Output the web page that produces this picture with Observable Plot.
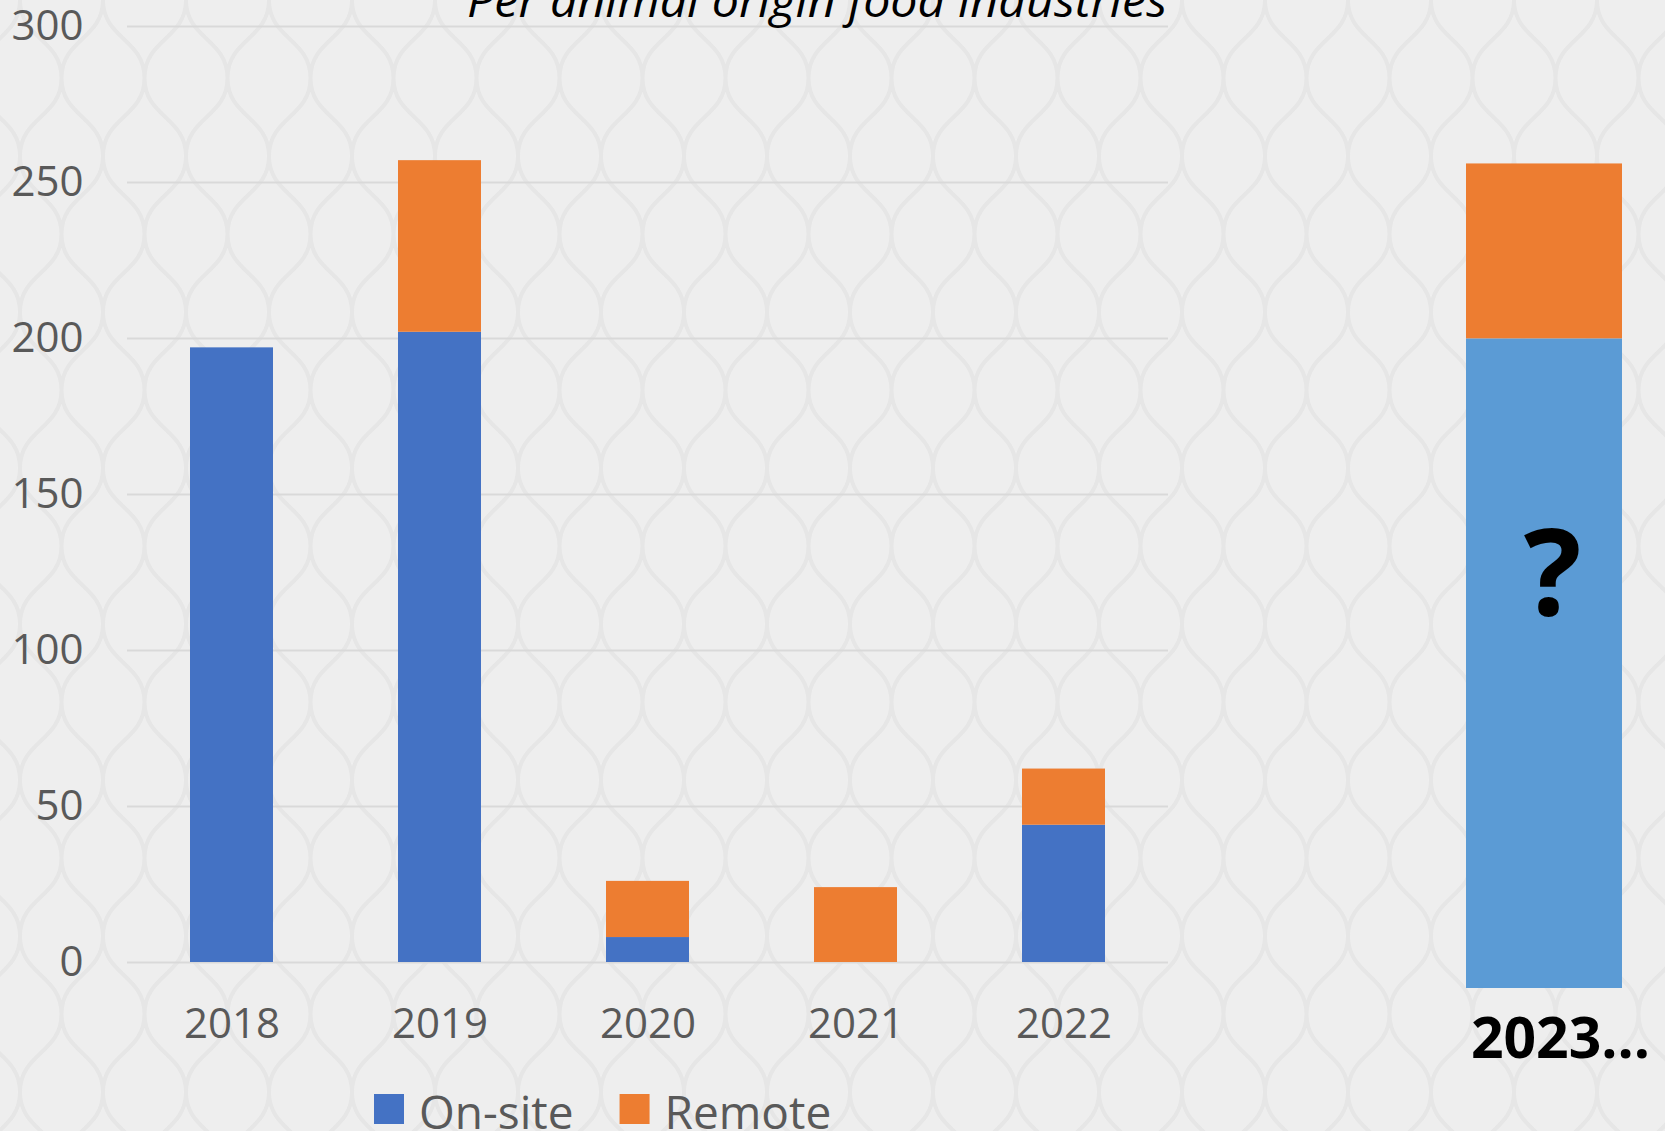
<!DOCTYPE html>
<html>
<head>
<meta charset="utf-8">
<script src="https://cdn.jsdelivr.net/npm/d3@7"></script>
<script src="https://cdn.jsdelivr.net/npm/@observablehq/plot@0.6"></script>
<style>
  html, body { margin: 0; padding: 0; }
  #stage {
    position: relative; width: 1665px; height: 1131px; overflow: hidden;
    background-color: #eeeeee;
    background-image: url("data:image/svg+xml,%3Csvg xmlns='http://www.w3.org/2000/svg' width='83' height='156'%3E%3Cpath d='M0,0 C0,39 41.5,39 41.5,78 C41.5,117 0,117 0,156 M83,0 C83,39 41.5,39 41.5,78 C41.5,117 83,117 83,156' fill='none' stroke='%23e6e6e6' stroke-width='4'/%3E%3C/svg%3E");
    background-position: 20px 0;
    font-family: "Open Sans", sans-serif;
  }
  #stage > svg, #stage > div { position: absolute; }
</style>
</head>
<body>
<div id="stage"></div>
<script>
// ---- data ----
const years = ["2018", "2019", "2020", "2021", "2022"];
const onSite = [197, 202, 8, 0, 44];
const remote = [0, 55, 18, 24, 18];
const seriesNames = ["On-site", "Remote"];
const seriesColors = ["#4472C4", "#ED7D31"];
const yTicks = [0, 50, 100, 150, 200, 250, 300];
const forecastLabel = "2023...";
const forecastOnSite = 208;
const forecastRemote = 56;
const forecastColors = ["#5B9BD5", "#ED7D31"];
const forecastMark = "?";
const titleText = "Per animal origin food industries";

const stage = document.getElementById("stage");

// ---- main chart ----
const rows = years.flatMap((yr, i) => [
  {year: yr, series: seriesNames[0], value: onSite[i]},
  {year: yr, series: seriesNames[1], value: remote[i]}
]);

const main = Plot.plot({
  width: 1200, height: 1060,
  marginLeft: 127, marginRight: 32, marginTop: 26, marginBottom: 98,
  style: {background: "transparent", fontFamily: "'Open Sans', sans-serif", overflow: "visible"},
  x: {domain: years, paddingInner: 0.6, paddingOuter: 0.3, axis: null},
  y: {domain: [0, 300], axis: null},
  color: {domain: seriesNames, range: seriesColors},
  marks: [
    Plot.gridY(yTicks, {stroke: "#d9d9d9", strokeOpacity: 1, strokeWidth: 2}),
    Plot.axisY(yTicks, {tickSize: 0, tickPadding: 44, fontSize: 42, fill: "#595959", textAnchor: "end", label: null}),
    Plot.axisX({tickSize: 0, tickPadding: 46, fontSize: 42, fill: "#595959", label: null}),
    Plot.barY(rows, {x: "year", y: "value", fill: "series"})
  ]
});
main.style.left = "0px"; main.style.top = "0px";
stage.appendChild(main);

// ---- forecast bar ----
const fRows = [
  {label: forecastLabel, series: seriesNames[0], value: forecastOnSite},
  {label: forecastLabel, series: seriesNames[1], value: forecastRemote}
];
const fc = Plot.plot({
  width: 365, height: 1131,
  marginLeft: 166, marginRight: 43, marginTop: 51, marginBottom: 143,
  style: {background: "transparent", fontFamily: "'Open Sans', sans-serif", fontWeight: "bold", overflow: "visible"},
  x: {domain: [forecastLabel], padding: 0, axis: null},
  y: {domain: [0, 300], axis: null},
  color: {domain: seriesNames, range: forecastColors},
  marks: [
    Plot.barY(fRows, {x: "label", y: "value", fill: "series"}),
    Plot.axisX({tickSize: 0, tickPadding: 29, fontSize: 57, fill: "#000000", dx: 16, label: null}),
    Plot.text([forecastMark], {frameAnchor: "middle", dx: 8, dy: 56, fontSize: 121, fontWeight: "bold", fill: "#000000"})
  ]
});
fc.style.left = "1300px"; fc.style.top = "0px";
stage.appendChild(fc);

// ---- title + legend overlay ----
const ov = d3.select(stage).append("svg")
  .attr("width", 1665).attr("height", 1131)
  .style("left", "0px").style("top", "0px").style("pointer-events", "none")
  .style("font-family", "'Open Sans', sans-serif");

ov.append("text")
  .attr("x", 817).attr("y", 17)
  .attr("text-anchor", "middle")
  .attr("font-style", "italic")
  .attr("font-size", 46)
  .attr("fill", "#000")
  .attr("textLength", 700).attr("lengthAdjust", "spacingAndGlyphs")
  .text(titleText);

let cx = 374;
seriesNames.forEach((name, i) => {
  ov.append("rect").attr("x", cx).attr("y", 1094).attr("width", 30).attr("height", 30).attr("fill", seriesColors[i]);
  const t = ov.append("text").attr("x", cx + 45).attr("y", 1129)
    .attr("font-size", 46).attr("fill", "#595959").text(name);
  cx = cx + 45 + t.node().getComputedTextLength() + 46;
});
</script>
</body>
</html>
